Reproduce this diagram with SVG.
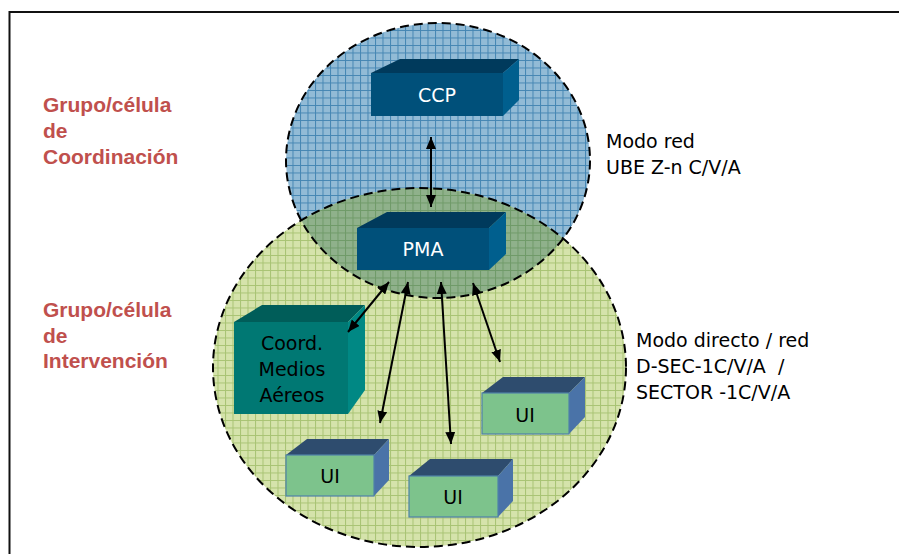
<svg xmlns="http://www.w3.org/2000/svg" width="899" height="554" viewBox="0 0 899 554">
  <style>
    .lbl { font-family: "Liberation Sans", Arial, sans-serif; font-weight: bold; font-size: 21px; fill: #c0504d; }
    .note { font-family: "DejaVu Sans", Verdana, sans-serif; font-size: 19px; fill: #000; }
    .bx { font-family: "DejaVu Sans", Verdana, sans-serif; font-size: 19px; text-anchor: middle; }
    .conn { stroke: #000; stroke-width: 2; fill: none; marker-start: url(#ah); marker-end: url(#ah); }
    .dash { fill: none; stroke: #000; stroke-width: 2; stroke-dasharray: 9 5; }
    .dkF { fill: #00507a; } .dkT { fill: #003a5c; } .dkR { fill: #005f8e; }
    .tlF { fill: #007873; } .tlT { fill: #005d59; } .tlR { fill: #008884; }
    .uiF { fill: #7dc38c; stroke: #4f81a8; stroke-width: 1.2; } .uiT { fill: #2e4c6e; } .uiR { fill: #4a73a8; }
  </style>
  <defs>
    <pattern id="pB" width="7.5" height="7.5" patternUnits="userSpaceOnUse">
      <rect width="7.5" height="7.5" fill="#92bbd6"/>
      <path d="M0,0.5 H7.5 M0.5,0 V7.5" stroke="#4586b3" stroke-width="1"/>
    </pattern>
    <pattern id="pG" width="7.5" height="7.5" patternUnits="userSpaceOnUse">
      <rect width="7.5" height="7.5" fill="#d5e3ab"/>
      <path d="M0,0.5 H7.5 M0.5,0 V7.5" stroke="#a8c373" stroke-width="1"/>
    </pattern>
    <pattern id="pO" width="7.5" height="7.5" patternUnits="userSpaceOnUse">
      <rect width="7.5" height="7.5" fill="#8fb18b"/>
      <path d="M0,0.5 H7.5 M0.5,0 V7.5" stroke="#6f9a68" stroke-width="1"/>
    </pattern>
    <clipPath id="clipBlue">
      <ellipse cx="438" cy="160.5" rx="152" ry="137.5"/>
    </clipPath>
    <marker id="ah" viewBox="0 0 12 10" markerWidth="12" markerHeight="10" refX="12" refY="5" orient="auto-start-reverse" markerUnits="userSpaceOnUse">
      <path d="M0,0 L12,5 L0,10 z" fill="#000"/>
    </marker>
  </defs>

  <!-- frame -->
  <path d="M9.5,554 V12 H899" fill="none" stroke="#111" stroke-width="2"/>

  <!-- groups (ellipses) -->
  <g id="zones">
    <ellipse cx="438" cy="160.5" rx="152" ry="137.5" fill="url(#pB)"/>
    <ellipse cx="419.5" cy="367.5" rx="206.5" ry="179.5" fill="url(#pG)"/>
    <ellipse cx="419.5" cy="367.5" rx="206.5" ry="179.5" fill="url(#pO)" clip-path="url(#clipBlue)"/>
    <ellipse class="dash" cx="438" cy="160.5" rx="152" ry="137.5"/>
    <ellipse class="dash" cx="419.5" cy="367.5" rx="206.5" ry="179.5"/>
  </g>

  <!-- labels -->
  <g id="label-coordinacion">
    <text class="lbl" x="43" y="112">Grupo/célula</text>
    <text class="lbl" x="43" y="138">de</text>
    <text class="lbl" x="43" y="164">Coordinación</text>
  </g>
  <g id="label-intervencion">
    <text class="lbl" x="43" y="317">Grupo/célula</text>
    <text class="lbl" x="43" y="343">de</text>
    <text class="lbl" x="43" y="368">Intervención</text>
  </g>
  <g id="note-red">
    <text class="note" x="606" y="148">Modo red</text>
    <text class="note" x="606" y="174">UBE Z-n C/V/A</text>
  </g>
  <g id="note-directo">
    <text class="note" x="636" y="347">Modo directo / red</text>
    <text class="note" x="636" y="373" xml:space="preserve">D-SEC-1C/V/A  /</text>
    <text class="note" x="636" y="399">SECTOR -1C/V/A</text>
  </g>

  <!-- nodes -->
  <g id="ccp">
    <polygon class="dkT" points="371,73 400,59 519,59 503,73"/>
    <polygon class="dkR" points="503,73 519,59 519,100 503,116"/>
    <rect class="dkF" x="371" y="73" width="132" height="43"/>
    <text class="bx" x="437" y="102" fill="#fff">CCP</text>
  </g>
  <g id="pma">
    <polygon class="dkT" points="357,228 387,212 506,212 489,228"/>
    <polygon class="dkR" points="489,228 506,212 506,254 489,270"/>
    <rect class="dkF" x="357" y="228" width="132" height="42"/>
    <text class="bx" x="423" y="256" fill="#fff">PMA</text>
  </g>
  <g id="coord">
    <polygon class="tlT" points="234,322 262,305 365,305 348,322"/>
    <polygon class="tlR" points="348,322 365,305 365,390 348,414"/>
    <rect class="tlF" x="234" y="322" width="114" height="92"/>
    <text class="bx" x="292" y="350" fill="#000">Coord.</text>
    <text class="bx" x="292" y="376" fill="#000">Medios</text>
    <text class="bx" x="292" y="402" fill="#000">Aéreos</text>
  </g>
  <g id="ui1">
    <polygon class="uiT" points="286,455 307,439 389,439 374,455"/>
    <polygon class="uiR" points="374,455 389,439 389,480 374,496"/>
    <rect class="uiF" x="286" y="455" width="88" height="41"/>
    <text class="bx" x="330" y="483" fill="#000">UI</text>
  </g>
  <g id="ui2">
    <polygon class="uiT" points="409,476 430,459 513,459 498,476"/>
    <polygon class="uiR" points="498,476 513,459 513,501 498,517"/>
    <rect class="uiF" x="409" y="476" width="89" height="41"/>
    <text class="bx" x="453" y="504" fill="#000">UI</text>
  </g>
  <g id="ui3">
    <polygon class="uiT" points="482,393 503,377 585,377 569,393"/>
    <polygon class="uiR" points="569,393 585,377 585,417 569,434"/>
    <rect class="uiF" x="482" y="393" width="87" height="41"/>
    <text class="bx" x="525" y="422" fill="#000">UI</text>
  </g>

  <!-- connectors -->
  <g id="connectors">
    <line class="conn" x1="431" y1="137" x2="431" y2="207"/>
    <line class="conn" x1="389" y1="282" x2="348" y2="332"/>
    <line class="conn" x1="408" y1="282" x2="380" y2="423"/>
    <line class="conn" x1="441" y1="282" x2="451" y2="444"/>
    <line class="conn" x1="473" y1="283" x2="500" y2="362"/>
  </g>
</svg>
